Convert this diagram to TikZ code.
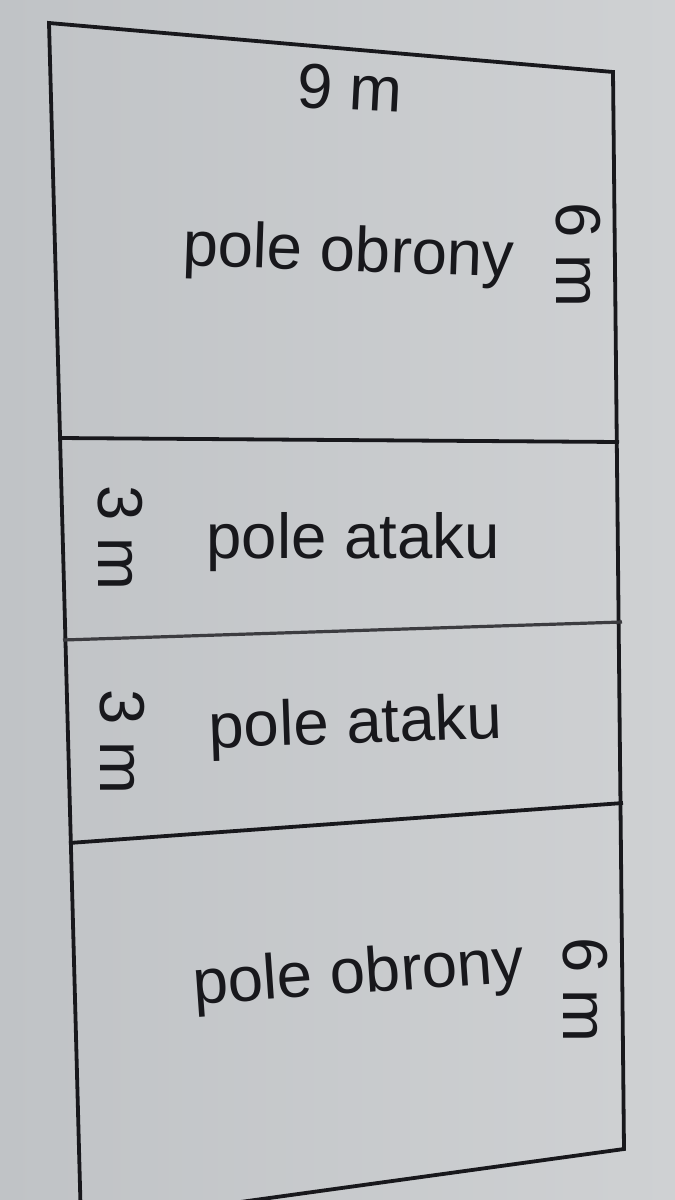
\documentclass[tikz,border=0pt]{standalone}
\usepackage{fontspec}
\setmainfont{Liberation Sans}
\definecolor{paperL}{RGB}{192,195,198}
\definecolor{paperR}{RGB}{207,209,211}
\definecolor{ink}{RGB}{24,24,28}
\definecolor{netink}{RGB}{60,60,64}
\begin{document}
\begin{tikzpicture}[x=1pt,y=-1pt,
  courtline/.style={line width=3.8pt, draw=ink, line join=miter},
  netline/.style={line width=3.2pt, draw=netink},
  lbl/.style={font=\fontsize{63.5}{70}\selectfont, text=ink, inner sep=0pt}]
\useasboundingbox (0,0) rectangle (675,1200);
\clip (0,0) rectangle (675,1200);
\shade[left color=paperL, right color=paperR] (0,0) rectangle (675,1200);
% court corners and dividing-line ends
\coordinate (TL) at (49,23);
\coordinate (TR) at (613,72);
\coordinate (BL) at (81,1224);
\coordinate (BR) at (624,1149);
\coordinate (A1) at (59,438);
\coordinate (B1) at (619,442);
\coordinate (A2) at (63,640);
\coordinate (B2) at (622,622);
\coordinate (A3) at (69,843);
\coordinate (B3) at (623,803);
% outline
\draw[courtline] (TL) -- (TR) -- (BR) -- (BL) -- cycle;
% dividing lines
\draw[courtline] (A1) -- (B1);
\draw[netline] (A2) -- (B2);
\draw[courtline] (A3) -- (B3);
% labels
\node[lbl, rotate=-3] (w) at (350,88) {9 m};
\node[lbl, anchor=base, rotate=-2] (d1) at (348,271) {pole obrony};
\node[lbl, rotate=-90] (s1) at (578,255) {6 m};
\node[lbl, anchor=base] (a1) at (353,558) {pole ataku};
\node[lbl, rotate=-90] (s2) at (120,538) {3 m};
\node[lbl, anchor=base, rotate=2] (a2) at (356,743) {pole ataku};
\node[lbl, rotate=-90] (s3) at (122,742) {3 m};
\node[lbl, anchor=base, rotate=4] (d2) at (360,993) {pole obrony};
\node[lbl, rotate=-90] (s4) at (585,990) {6 m};
\end{tikzpicture}
\end{document}
